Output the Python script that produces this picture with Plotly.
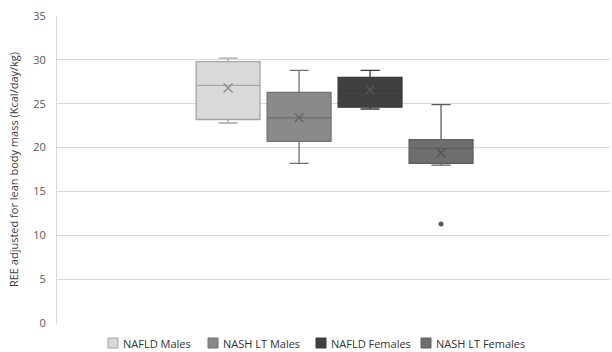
import plotly.graph_objects as go

groups = ["NAFLD Males", "NASH LT Males", "NAFLD Females", "NASH LT Females"]
lower = [22.8, 18.2, 24.4, 18.0]
q1 = [23.2, 20.7, 24.6, 18.2]
median = [27.1, 23.4, 26.5, 19.9]
q3 = [29.8, 26.3, 28.0, 20.9]
upper = [30.2, 28.8, 28.8, 24.9]
means = [26.8, 23.4, 26.6, 19.4]
outlier_group = [3]
outlier_value = [11.3]

fills = ["#d9d9d9", "#8a8a8a", "#404040", "#6e6e6e"]
lines = ["#a6a6a6", "#707070", "#3a3a3a", "#5e5e5e"]
mean_colors = ["#8c8c8c", "#666666", "#555555", "#555555"]

# legend entry placement (pixels in the 612x352 canvas)
legend_px = [108, 208, 316, 421]

W, H = 612, 352
ML, MR, MT, MB = 57, 2, 16, 29
PW, PH = W - ML - MR, H - MT - MB

def px_to_paper_x(px):
    return (px - ML) / PW

def py_to_paper_y(py):
    return (H - MB - py) / PH

fig = go.Figure()
for i, g in enumerate(groups):
    fig.add_trace(go.Box(
        name=g, x=[i], q1=[q1[i]], median=[median[i]], q3=[q3[i]],
        lowerfence=[lower[i]], upperfence=[upper[i]],
        fillcolor=fills[i], line=dict(color=lines[i], width=1.3),
        width=0.9, whiskerwidth=0.3, boxpoints=False, hoverinfo="skip",
        showlegend=False,
    ))
fig.add_trace(go.Scatter(
    x=list(range(len(groups))), y=means, mode="markers", showlegend=False,
    marker=dict(symbol="x-thin-open", size=9, color=mean_colors,
                line=dict(color=mean_colors, width=1.3)),
))
fig.add_trace(go.Scatter(
    x=outlier_group, y=outlier_value, mode="markers", showlegend=False,
    marker=dict(symbol="circle", size=5, color="#595959"),
))

# custom legend (Excel-style: small square close to its label)
for i, g in enumerate(groups):
    x0 = legend_px[i]
    fig.add_shape(type="rect", xref="paper", yref="paper",
                  x0=px_to_paper_x(x0), x1=px_to_paper_x(x0 + 10),
                  y0=py_to_paper_y(348), y1=py_to_paper_y(338),
                  fillcolor=fills[i], line=dict(color=lines[i], width=1))
    fig.add_annotation(text=g, xref="paper", yref="paper",
                       x=px_to_paper_x(x0 + 13), y=py_to_paper_y(343),
                       xanchor="left", yanchor="middle", showarrow=False,
                       font=dict(size=11, color="#333333"))

fig.update_layout(
    width=W, height=H, paper_bgcolor="white", plot_bgcolor="white",
    margin=dict(l=ML, r=MR, t=MT, b=MB, autoexpand=False),
    font=dict(family="Open Sans", size=11, color="#595959"),
    showlegend=False,
    xaxis=dict(range=[-2.41, 5.38], showticklabels=False, showgrid=False, zeroline=False,
               showline=False, fixedrange=True),
    yaxis=dict(range=[0, 35], dtick=5, showgrid=True, gridcolor="#d9d9d9", gridwidth=1,
               zeroline=False, showline=True, linecolor="#d9d9d9", linewidth=1,
               ticks="", ticklabelstandoff=8, automargin=False,
               title=dict(text="REE adjusted for lean body mass (Kcal/day/kg)",
                          font=dict(size=11, color="#404040"), standoff=12),
               tickfont=dict(size=11, color="#595959")),
)
fig.write_html("out.html", config={"displayModeBar": False},
               post_script="document.body.style.margin='0';")
